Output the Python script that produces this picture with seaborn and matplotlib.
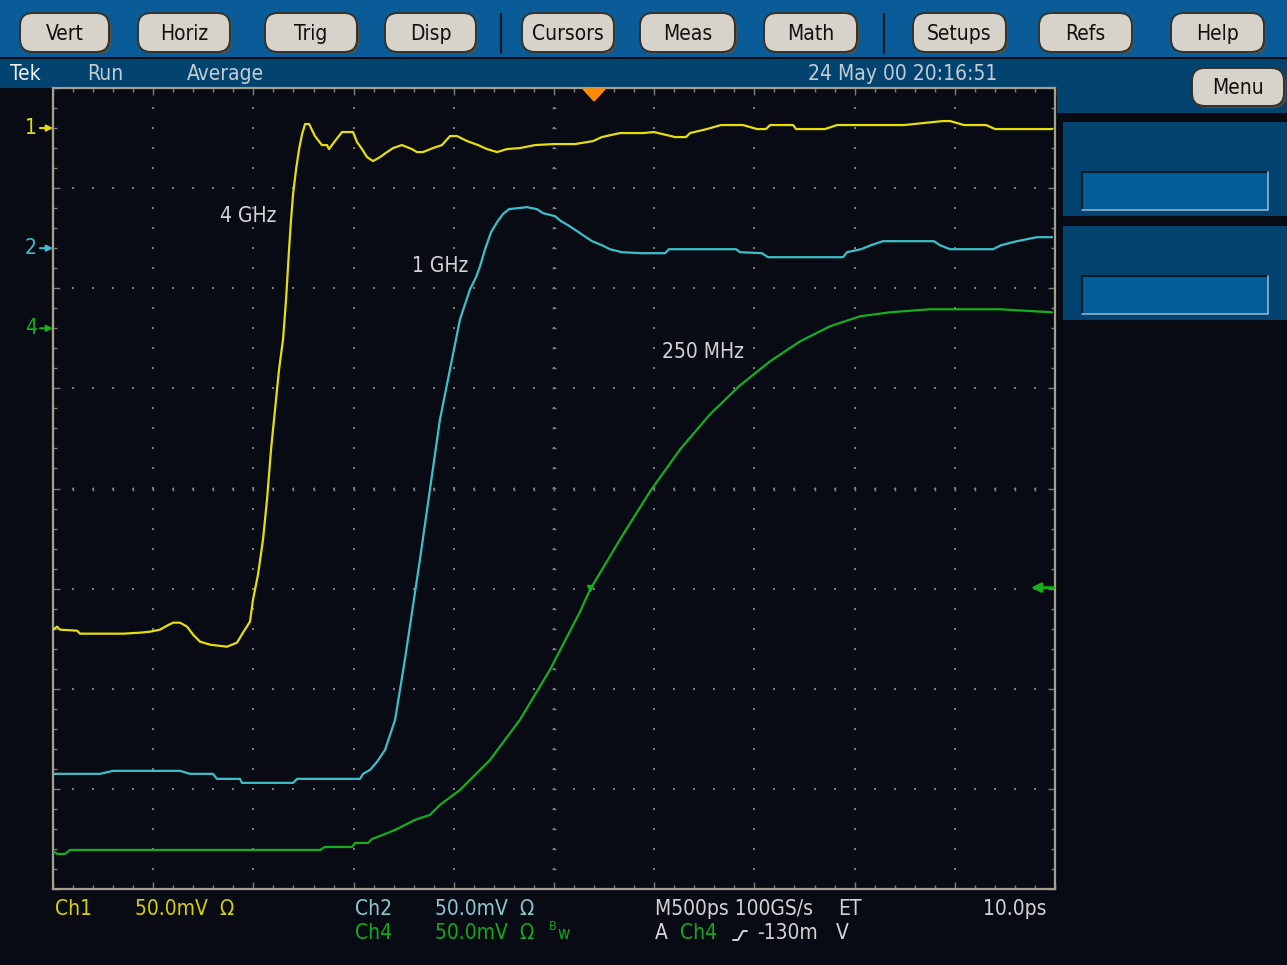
import numpy as np
import pandas as pd
import matplotlib
matplotlib.use('Agg')
import matplotlib.pyplot as plt
import matplotlib.transforms as mtransforms
from matplotlib.patches import Rectangle, FancyBboxPatch
from matplotlib.lines import Line2D
from matplotlib.ticker import MultipleLocator
import seaborn as sns

# time in ns (500 ps/div), level in screen divisions (0 = centre line)
ch1_t = [0.000, 0.020, 0.035, 0.120, 0.135, 0.270, 0.350, 0.434, 0.484, 0.534,
         0.569, 0.599, 0.634, 0.669, 0.699, 0.734, 0.784, 0.868, 0.918, 0.948,
         0.983, 0.998, 1.023, 1.048, 1.068, 1.088, 1.108, 1.128, 1.148, 1.163,
         1.178, 1.188, 1.198, 1.213, 1.228, 1.243, 1.258, 1.278, 1.307, 1.342,
         1.367, 1.377, 1.407, 1.442, 1.497, 1.517, 1.542, 1.567, 1.597, 1.632,
         1.667, 1.697, 1.741, 1.791, 1.816, 1.846, 1.896, 1.941, 1.981, 2.016,
         2.066, 2.121, 2.166, 2.216, 2.265, 2.330, 2.405, 2.500, 2.605, 2.695,
         2.739, 2.829, 2.944, 2.999, 3.104, 3.159, 3.179, 3.263, 3.333, 3.443,
         3.513, 3.558, 3.578, 3.693, 3.708, 3.852, 3.912, 4.067, 4.247, 4.441,
         4.476, 4.546, 4.656, 4.701, 4.781, 4.870, 4.985]
ch1_v = [-1.41, -1.38, -1.41, -1.42, -1.45, -1.45, -1.45, -1.44, -1.43, -1.41,
         -1.37, -1.34, -1.34, -1.38, -1.46, -1.53, -1.56, -1.58, -1.54, -1.44,
         -1.33, -1.11, -0.86, -0.51, -0.11, 0.39, 0.79, 1.19, 1.49, 1.89,
         2.39, 2.69, 2.94, 3.19, 3.39, 3.54, 3.64, 3.64, 3.52, 3.43,
         3.43, 3.39, 3.47, 3.56, 3.56, 3.46, 3.39, 3.31, 3.27, 3.31,
         3.36, 3.40, 3.43, 3.39, 3.36, 3.36, 3.40, 3.43, 3.52, 3.52,
         3.47, 3.43, 3.39, 3.36, 3.39, 3.40, 3.43, 3.44, 3.44, 3.47,
         3.51, 3.55, 3.55, 3.56, 3.51, 3.51, 3.55, 3.59, 3.63, 3.63,
         3.59, 3.59, 3.63, 3.63, 3.59, 3.59, 3.63, 3.63, 3.63, 3.67,
         3.67, 3.63, 3.63, 3.59, 3.59, 3.59, 3.59]

ch2_t = [0.000, 0.235, 0.299, 0.484, 0.634, 0.684, 0.798, 0.818, 0.933, 0.943,
         1.198, 1.218, 1.532, 1.547, 1.582, 1.617, 1.657, 1.707, 1.756, 1.831,
         1.881, 1.931, 1.981, 2.031, 2.081, 2.111, 2.131, 2.156, 2.186, 2.216,
         2.245, 2.275, 2.365, 2.415, 2.445, 2.505, 2.535, 2.570, 2.600, 2.630,
         2.660, 2.690, 2.739, 2.779, 2.839, 2.939, 3.054, 3.074, 3.408, 3.428,
         3.538, 3.568, 3.942, 3.962, 4.032, 4.082, 4.142, 4.396, 4.426, 4.476,
         4.691, 4.731, 4.810, 4.910, 4.985]
ch2_v = [-2.85, -2.85, -2.82, -2.82, -2.82, -2.85, -2.85, -2.90, -2.90, -2.94,
         -2.94, -2.90, -2.90, -2.85, -2.81, -2.73, -2.61, -2.31, -1.71, -0.71,
         -0.01, 0.69, 1.19, 1.69, 1.99, 2.11, 2.22, 2.39, 2.56, 2.66,
         2.74, 2.79, 2.81, 2.79, 2.75, 2.72, 2.67, 2.63, 2.59, 2.55,
         2.51, 2.47, 2.43, 2.39, 2.36, 2.35, 2.35, 2.39, 2.39, 2.36,
         2.35, 2.31, 2.31, 2.36, 2.39, 2.43, 2.47, 2.47, 2.43, 2.39,
         2.39, 2.43, 2.47, 2.51, 2.51]

ch4_t = [0.000, 0.020, 0.060, 0.085, 1.333, 1.357, 1.492, 1.507, 1.572, 1.592,
         1.632, 1.707, 1.806, 1.881, 1.931, 2.031, 2.181, 2.330, 2.480, 2.630,
         2.680, 2.829, 2.979, 3.129, 3.278, 3.428, 3.578, 3.728, 3.877, 4.027,
         4.177, 4.376, 4.725, 4.985]
ch4_v = [-3.62, -3.65, -3.65, -3.61, -3.61, -3.58, -3.58, -3.54, -3.54, -3.50,
         -3.47, -3.41, -3.31, -3.26, -3.16, -3.01, -2.71, -2.31, -1.81, -1.23,
         -1.01, -0.51, -0.03, 0.39, 0.74, 1.03, 1.27, 1.47, 1.62, 1.72,
         1.76, 1.79, 1.79, 1.76]

channels = ['Ch1', 'Ch2', 'Ch4']
trace_labels = ['4 GHz', '1 GHz', '250 MHz']
label_pos = [(0.833, 2.72), (1.791, 2.22), (3.039, 1.36)]
ground_levels = [3.60, 2.40, 1.60]
ground_names = ['1', '2', '4']
trig_time = 2.70
trig_level = -0.99

buttons = ['Vert', 'Horiz', 'Trig', 'Disp', 'Cursors', 'Meas', 'Math', 'Setups', 'Refs', 'Help']
button_x = [(20, 109), (138, 230), (265, 357), (385, 476), (522, 614),
            (640, 735), (764, 857), (913, 1006), (1039, 1132), (1171, 1264)]

BG = '#080b14'
TOPBAR = '#0a5c98'
BAND = '#03436f'
INNER = '#015e99'
YEL = '#e6de0a'
CYA = '#3cbfca'
GRN = '#16ae1c'
GRID = '#7c7c7c'
TXT = '#d4d4d4'
palette = {'Ch1': YEL, 'Ch2': CYA, 'Ch4': GRN}

sns.set_style('dark', rc={'axes.facecolor': BG, 'figure.facecolor': BG})
plt.rcParams['font.family'] = ['DejaVu Sans']
FONT = dict(family='DejaVu Sans', fontstretch='condensed')

df = pd.concat([
    pd.DataFrame({'t': ch1_t, 'v': ch1_v, 'ch': 'Ch1'}),
    pd.DataFrame({'t': ch2_t, 'v': ch2_v, 'ch': 'Ch2'}),
    pd.DataFrame({'t': ch4_t, 'v': ch4_v, 'ch': 'Ch4'}),
], ignore_index=True)

W, H = 1287, 965
fig = plt.figure(figsize=(W / 100, H / 100), dpi=100)
fig.patch.set_facecolor(BG)

# pixel overlay for the scope frame
bg = fig.add_axes([0, 0, 1, 1], zorder=0)
bg.set_xlim(0, W)
bg.set_ylim(H, 0)
bg.axis('off')

bg.add_patch(Rectangle((0, 0), W, 57, fc=TOPBAR, ec='none'))
bg.add_patch(Rectangle((0, 59), W, 29, fc=BAND, ec='none'))
bg.add_patch(Rectangle((1057, 88), W - 1057, 25, fc=BAND, ec='none'))
for y0 in (122, 226):
    bg.add_patch(Rectangle((1063, y0), W - 1063, 94, fc=BAND, ec='none'))
    bg.add_patch(Rectangle((1082, y0 + 50), 186, 38, fc=INNER, ec='none'))
    bg.add_line(Line2D([1082, 1082, 1268], [y0 + 88, y0 + 50, y0 + 50], color='#021a2c', lw=1.5))
    bg.add_line(Line2D([1082, 1268, 1268], [y0 + 88, y0 + 88, y0 + 50], color='#8fb4d0', lw=1.2))

for sx in (501, 884):
    bg.add_line(Line2D([sx, sx], [14, 53], color='#0b1a28', lw=1.6))

def pill(x0, x1, y0, y1, label):
    bg.add_patch(FancyBboxPatch((x0 + 2, y0 + 2), x1 - x0, y1 - y0,
                                boxstyle='round,pad=0,rounding_size=13',
                                fc='#55503f', ec='none'))
    bg.add_patch(FancyBboxPatch((x0, y0), x1 - x0, y1 - y0,
                                boxstyle='round,pad=0,rounding_size=13',
                                fc='#d7d3cb', ec='#34322c', lw=1.4))
    bg.text((x0 + x1) / 2, (y0 + y1) / 2 + 1, label, ha='center', va='center',
            fontsize=15, color='#101010', **FONT)

for name, (x0, x1) in zip(buttons, button_x):
    pill(x0, x1, 13, 52, name)
pill(1192, 1284, 68, 106, 'Menu')

bg.text(10, 74, 'Tek', color='#f0f0f0', fontsize=15, va='center', **FONT)
bg.text(87, 74, 'Run', color='#c4ccd4', fontsize=15, va='center', **FONT)
bg.text(187, 74, 'Average', color='#c4ccd4', fontsize=15, va='center', **FONT)
bg.text(808, 74, '24 May 00 20:16:51', color='#c4ccd4', fontsize=15, va='center', **FONT)

# readout rows under the graticule
row1, row2 = 909, 933
readout = [
    (55, row1, 'Ch1', '#d8d000'), (135, row1, '50.0mV  \u03a9', '#d8d000'),
    (355, row1, 'Ch2', '#8cc8d0'), (435, row1, '50.0mV  \u03a9', '#8cc8d0'),
    (655, row1, 'M500ps 100GS/s', TXT), (838, row1, 'ET', TXT), (983, row1, '10.0ps', TXT),
    (355, row2, 'Ch4', '#12a81a'), (435, row2, '50.0mV  \u03a9', '#12a81a'),
    (655, row2, 'A', TXT), (680, row2, 'Ch4', '#12a81a'),
    (757, row2, '-130m', TXT), (836, row2, 'V', TXT),
]
for x, y, s, c in readout:
    bg.text(x, y, s, color=c, fontsize=15, va='center', **FONT)
bg.text(549, row2 - 6, 'B', color='#12a81a', fontsize=9, va='center', **FONT)
bg.text(557, row2 + 1, 'w', color='#12a81a', fontsize=12, va='center', **FONT)
bg.add_line(Line2D([733, 738, 743, 747], [940, 940, 931, 931], color=TXT, lw=1.4))

# graticule
ax = fig.add_axes([53 / W, (H - 889) / H, 1002 / W, 801 / H], zorder=1)
ax.set_facecolor(BG)
ax.set_xlim(0, 5)
ax.set_ylim(-4, 4)

gx = np.arange(0.5, 5.0, 0.5)
gy = np.arange(-3.8, 4.0, 0.2)
vx, vy = np.meshgrid(gx, gy)
ax.scatter(vx.ravel(), vy.ravel(), s=2.2, marker='s', color=GRID, linewidths=0, zorder=1)
hx = np.arange(0.1, 5.0, 0.1)
hy = np.arange(-3, 4, 1)
mx, my = np.meshgrid(hx, hy)
ax.scatter(mx.ravel(), my.ravel(), s=2.2, marker='s', color=GRID, linewidths=0, zorder=1)
ax.scatter(np.full(gy.size, 2.5), gy, s=10, marker='_', color=GRID, linewidths=1, zorder=1)
ax.scatter(hx, np.zeros(hx.size), s=10, marker='|', color=GRID, linewidths=1, zorder=1)

ax.xaxis.set_major_locator(MultipleLocator(0.5))
ax.xaxis.set_minor_locator(MultipleLocator(0.1))
ax.yaxis.set_major_locator(MultipleLocator(1))
ax.yaxis.set_minor_locator(MultipleLocator(0.2))
ax.tick_params(which='both', direction='in', top=True, right=True, bottom=True, left=True,
               color=GRID, width=1, labelbottom=False, labelleft=False)
ax.tick_params(which='major', length=5)
ax.tick_params(which='minor', length=3)
ax.grid(False)
for sp in ax.spines.values():
    sp.set_visible(True)
    sp.set_color('#a59f8e')
    sp.set_linewidth(1.6)

sns.lineplot(data=df, x='t', y='v', hue='ch', palette=palette, estimator=None,
             sort=False, legend=False, linewidth=1.6, ax=ax, zorder=3)
ax.set_xlabel('')
ax.set_ylabel('')

for s, (x, y) in zip(trace_labels, label_pos):
    ax.text(x, y, s, color=TXT, fontsize=15, va='center', ha='left', **FONT)

# channel ground markers left of the graticule
blend = mtransforms.blended_transform_factory(ax.transAxes, ax.transData)
for name, lev, ch in zip(ground_names, ground_levels, channels):
    c = palette[ch]
    ax.text(-0.022, lev, name, color=c, fontsize=15, ha='center', va='center',
            transform=blend, clip_on=False, **FONT)
    ax.annotate('', xy=(0.0, lev), xycoords=blend, xytext=(-0.013, lev), textcoords=blend,
                arrowprops=dict(arrowstyle='-|>', color=c, lw=1.5, mutation_scale=9,
                                shrinkA=0, shrinkB=0), annotation_clip=False)

# trigger position and level
ax.fill([trig_time - 0.055, trig_time + 0.055, trig_time], [3.99, 3.99, 3.87],
        color='#ff8a00', zorder=4, clip_on=False)
ax.annotate('', xy=(4.88, trig_level), xytext=(4.995, trig_level),
            arrowprops=dict(arrowstyle='-|>', color=GRN, lw=2, mutation_scale=14,
                            shrinkA=0, shrinkB=0))
ax.plot([trig_time - 0.02], [trig_level], marker='v', ms=5, color=GRN, zorder=4)

fig.savefig('out.png', dpi=100, facecolor=BG)
